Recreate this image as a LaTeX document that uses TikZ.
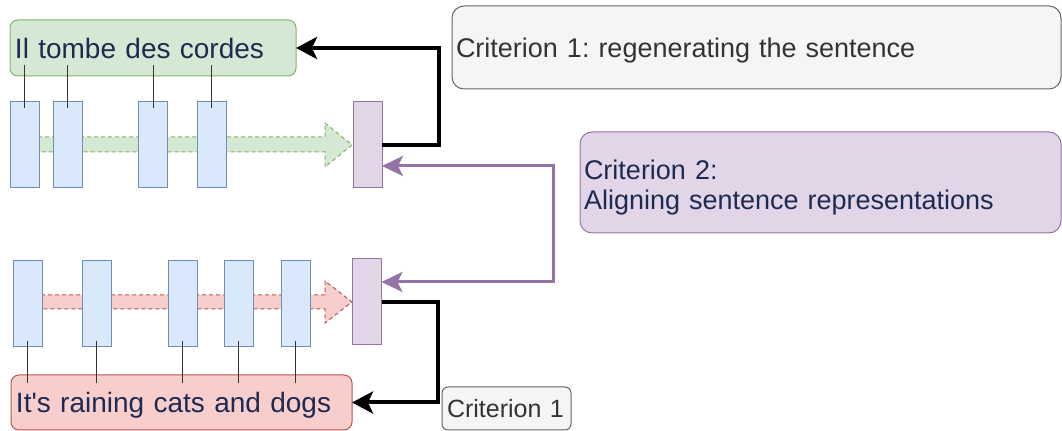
\documentclass[tikz,border=0pt]{standalone}
\usepackage{fontspec}
\setmainfont{Liberation Sans}
\usetikzlibrary{arrows.meta}
\frenchspacing

\definecolor{tokfill}{HTML}{DAE8FC}
\definecolor{tokline}{HTML}{6C8EBF}
\definecolor{encfill}{HTML}{E1D5E7}
\definecolor{encline}{HTML}{9673A6}
\definecolor{frfill}{HTML}{D5E8D4}
\definecolor{frline}{HTML}{82B366}
\definecolor{enfill}{HTML}{F8CECC}
\definecolor{enline}{HTML}{B85450}
\definecolor{crfill}{HTML}{F5F5F5}
\definecolor{crline}{HTML}{666666}
\definecolor{crtext}{HTML}{333333}
\definecolor{navy}{HTML}{1F2A52}

\begin{document}
\begin{tikzpicture}[x=.5pt,y=-.5pt]
	\tikzstyle{every node}=[inner sep=0pt, outer sep=0pt]
	\tikzstyle{tok}=[draw=tokline, fill=tokfill, line width=.5pt, minimum width=14.5pt, minimum height=43pt]
	\tikzstyle{enc}=[draw=encline, fill=encfill, line width=.5pt, minimum width=14.5pt, minimum height=43pt]
	\tikzstyle{sent}=[rounded corners=4pt, line width=.5pt, inner xsep=2.5pt, align=left, text depth=0pt, text=navy, font=\fontsize{14}{16}\selectfont]
	\tikzstyle{crit}=[rounded corners=6pt, line width=.5pt, inner xsep=2pt, align=left, text depth=0pt, font=\fontsize{13.5}{15}\selectfont]
	\tikzstyle{link}=[line width=.5pt, draw=black!80]
	\tikzstyle{regen}=[line width=2pt, -{Stealth[length=10.5pt,width=11pt,inset=2.5pt]}]
	\tikzstyle{aligned}=[line width=1.5pt, draw=encline, {Stealth[length=10.5pt,width=10pt,inset=2.5pt]}-{Stealth[length=10.5pt,width=10pt,inset=2.5pt]}]
	\useasboundingbox (0,0) rectangle (1062,431);

	% sentence flow
	\draw[fill=frfill, draw=frline, line width=.5pt, dash pattern=on 2pt off 1.5pt]
		(24,137) -- (325,137) -- (325,123) -- (352,145) -- (325,167) -- (325,152) -- (24,152) -- cycle;
	\draw[fill=enfill, draw=enline, line width=.5pt, dash pattern=on 2pt off 1.5pt]
		(27,295) -- (325,295) -- (325,281) -- (352,302) -- (325,323) -- (325,309) -- (27,309) -- cycle;

	\draw (153,48) node (fr) [sent, draw=frline, fill=frfill, minimum height=28pt, text width=138pt] {Il tombe des cordes};
	\draw (181.5,402.5) node (en) [sent, draw=enline, fill=enfill, minimum height=27.5pt, text width=165.5pt] {It\textquotesingle s raining cats and dogs};

	\draw (24.5,145) node (t1) [tok] {};
	\draw (67.5,145) node (t2) [tok] {};
	\draw (153,145) node (t3) [tok] {};
	\draw (211.5,145) node (t4) [tok] {};
	\draw (367.5,145) node (p1) [enc] {};

	\draw (27.5,304) node (b1) [tok] {};
	\draw (96.5,304) node (b2) [tok] {};
	\draw (182.5,304) node (b3) [tok] {};
	\draw (238.5,304) node (b4) [tok] {};
	\draw (295.5,304) node (b5) [tok] {};
	\draw (367,302) node (p2) [enc] {};

	\foreach \t in {t1,t2,t3,t4}
		\draw[link] ([yshift=-3pt]\t.north) -- ([yshift=5.5pt]\t.north |- fr.south);
	\foreach \b in {b1,b2,b3,b4,b5}
		\draw[link] ([yshift=3pt]\b.south) -- ([yshift=-4pt]\b.south |- en.north);

	\draw (756.5,47.5) node (c1) [crit, draw=crline, fill=crfill, text=crtext, minimum height=41.5pt, text width=300.5pt] {Criterion 1: regenerating the sentence};
	\draw (820.5,182.5) node (c2) [crit, draw=encline, fill=encfill, text=navy, text depth=13pt, minimum height=50.5pt, text width=236.5pt] {Criterion 2:\\Aligning sentence representations};
	\draw (506.5,408.5) node (c3) [crit, rounded corners=3pt, draw=crline, fill=crfill, text=crtext, minimum height=21.5pt, inner xsep=2.5pt, text width=59.5pt, font=\fontsize{12.5}{14}\selectfont] {Criterion 1};

	\draw[regen] (p1.east) -- ++(57,0) |- (fr.east);
	\draw[regen] (p2.east) -- ++(56,0) |- (en.east);
	\draw[aligned] ([yshift=-10.5pt]p1.east) -- ++(171,0) |- ([yshift=10pt]p2.east);
\end{tikzpicture}
\end{document}
